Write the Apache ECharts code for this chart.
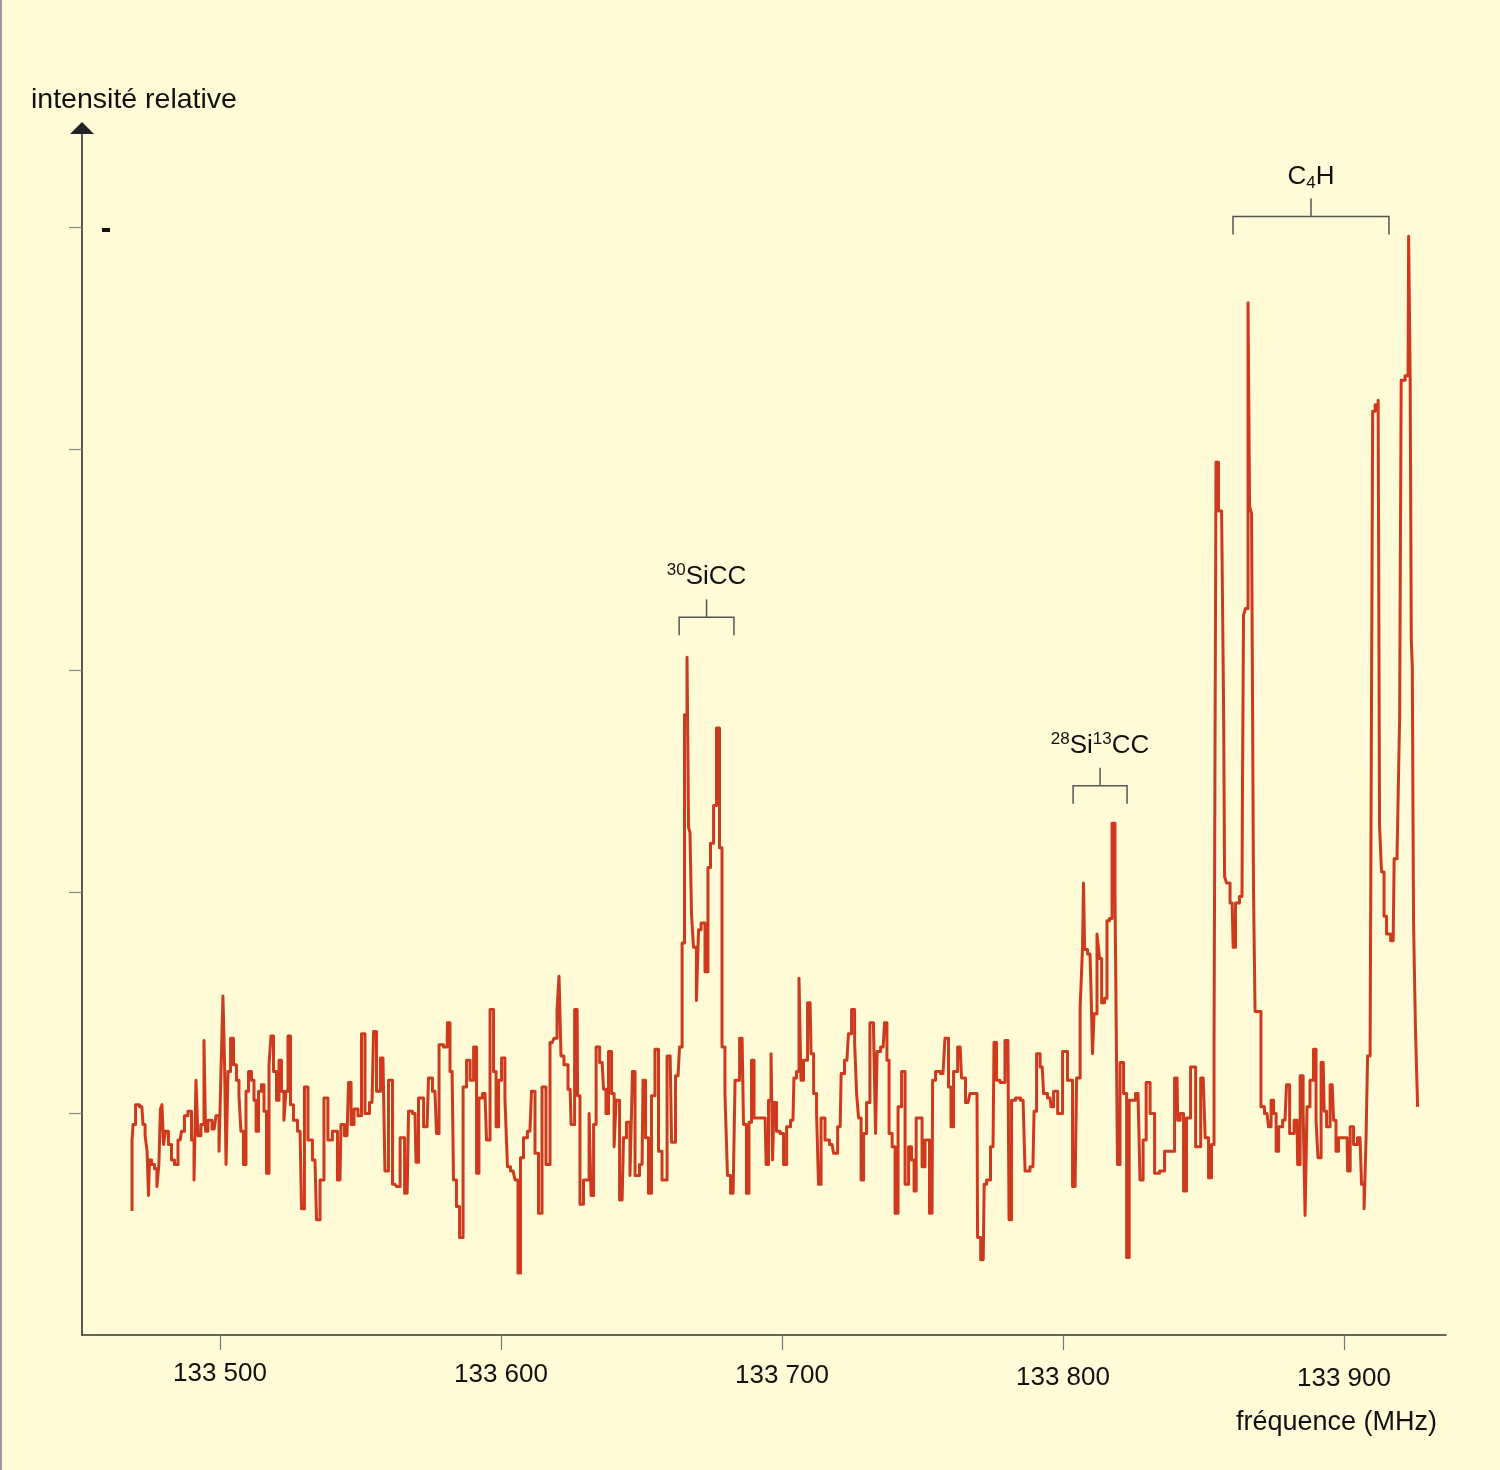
<!DOCTYPE html>
<html>
<head>
<meta charset="utf-8">
<title>Spectre SiCC / C4H</title>
<script src="https://cdn.jsdelivr.net/npm/echarts@6/dist/echarts.min.js"></script>
<style>
html, body { margin: 0; padding: 0; background: #fefbd6; }
#spectre { width: 1500px; height: 1470px; }
</style>
</head>
<body>
<div id="spectre"></div>
<script>
// spectre relevé à la main, [fréquence MHz, intensité relative]
const noiseLow = [[133468.7,-0.44],[133468.7,-0.12],[133469.4,-0.05],[133470.5,0.04],[133472.2,0.03],[133473.0,-0.05],[133473.7,-0.10],[133474.4,-0.17],[133474.7,-0.37],[133475.1,-0.21],[133476.2,-0.23],[133477.2,-0.25],[133477.9,-0.33],[133478.6,-0.23],[133479.0,0.02],[133479.7,0.04],[133480.1,-0.14],[133481.1,-0.08],[133482.2,-0.14],[133483.3,-0.21],[133484.3,-0.23],[133485.8,-0.12],[133486.8,-0.08],[133487.9,-0.01],[133489.3,0.01],[133490.4,-0.12],[133491.1,-0.30],[133491.8,0.15],[133492.5,-0.10],[133493.9,-0.05],[133494.7,0.33],[133495.0,-0.08],[133496.4,-0.03],[133497.9,-0.07],[133499.3,-0.01],[133500.0,-0.17],[133500.7,0.19],[133501.4,0.53],[133501.8,0.24],[133502.5,-0.23],[133503.2,0.19],[133504.3,0.34],[133505.3,0.22],[133506.4,0.15],[133507.1,0.08],[133507.8,-0.08],[133508.9,-0.23],[133509.6,0.10],[133510.7,0.19],[133511.7,0.15],[133512.5,0.06],[133513.2,-0.08],[133514.2,0.10],[133515.3,0.13],[133516.0,0.01],[133517.1,-0.27],[133517.8,0.22],[133518.5,0.35],[133519.6,0.19],[133520.6,0.06],[133521.4,0.24],[133522.4,0.10],[133523.1,-0.03],[133523.8,0.10],[133524.6,0.35],[133525.6,0.04],[133526.7,-0.03],[133528.5,-0.08],[133529.5,-0.43],[133530.6,0.12],[133532.0,-0.12],[133533.8,-0.21],[133534.9,-0.48],[133536.3,-0.30],[133537.7,0.07],[133539.1,-0.12],[133540.9,-0.08],[133542.7,-0.30],[133543.4,-0.05],[133545.2,-0.10]];
const noiseMid = [[133546.3,0.14],[133547.0,-0.05],[133548.4,0.02],[133549.8,-0.01],[133550.9,0.36],[133552.3,0],[133554.1,0.05],[133555.2,0.37],[133556.2,0.10],[133558.0,0.25],[133559.4,-0.26],[133560.5,0.15],[133562.3,-0.32],[133563.4,-0.33],[133564.8,-0.11],[133566.6,-0.36],[133567.6,0.01],[133569.4,0],[133570.1,-0.22],[133571.2,0.07],[133573.7,-0.06],[133574.7,0.16],[133576.5,0.10],[133577.6,-0.09],[133578.3,0.31],[133580.8,0.30],[133581.1,0.41],[133582.6,0.19],[133583.6,-0.30],[133584.7,-0.42],[133585.8,-0.56],[133587.2,0.12],[133588.3,0.24],[133589.7,0.15],[133590.8,0.30],[133591.8,-0.27],[133592.5,0.07],[133594.3,0.09],[133595.4,-0.12],[133596.8,0.47],[133597.9,0.19],[133598.6,-0.06],[133599.7,0.15],[133600.7,0.25],[133602.1,0.07],[133602.5,-0.24],[133604.3,-0.26],[133605.7,-0.30],[133606.4,-0.72],[133607.5,-0.20],[133608.5,-0.11],[133610.3,-0.08],[133611.4,0.10],[133612.8,-0.18],[133613.9,-0.45],[133615.3,0.12],[133616.7,-0.23],[133618.2,0.32],[133619.6,0.34],[133620.3,0.47],[133621.0,0.62],[133621.7,0.26],[133623.1,0.22],[133624.6,0.11],[133625.3,-0.05],[133627.1,0.47],[133627.4,0.08],[133628.8,-0.41],[133629.9,-0.30],[133631.0,-0.30],[133631.7,0],[133632.4,-0.37],[133633.5,-0.05],[133634.2,0.30],[133636.0,0.23],[133637.0,0.11],[133637.7,0],[133638.8,0.28],[133639.9,0.09],[133640.6,-0.15],[133641.3,0.06],[133643.1,-0.39],[133644.1,-0.11],[133645.2,-0.04],[133646.6,-0.28],[133647.0,0.19],[133648.4,-0.28],[133650.2,-0.23],[133650.9,0.15],[133652.0,-0.11],[133653.0,-0.36],[133654.1,0.08],[133655.5,0.29],[133656.6,-0.17],[133658.0,-0.30],[133660.2,0.26],[133661.2,-0.13],[133663.0,0.17]];
const peaksSiCC = [[133664.1,0.30],[133664.8,0.77],[133665.8,1.80],[133666.6,2.06],[133666.9,1.29],[133667.6,1.27],[133668.0,0.90],[133669.0,0.75],[133670.1,0.51],[133670.5,0.83],[133671.9,0.86],[133673.3,0.64],[133674.0,1.11],[133675.1,1.22],[133676.2,1.39],[133677.2,1.74],[133678.3,1.20],[133679.0,0.30],[133680.4,0.09],[133680.8,-0.28],[133682.6,-0.36],[133684.0,0.15]];
const noiseHigh = [[133685.8,0.34],[133686.8,-0.05],[133687.9,-0.36],[133688.6,-0.04],[133689.7,0.24],[133690.4,-0.02],[133694.0,-0.02],[133694.7,-0.23],[133695.7,0.06],[133696.5,0.27],[133696.8,-0.21],[133697.5,0.05],[133698.6,-0.08],[133700.0,-0.09],[133701.1,-0.23],[133702.2,-0.06],[133703.9,-0.03],[133704.6,0.16],[133705.7,0.19],[133706.4,0.61],[133707.1,0.15],[133708.2,0.24],[133710.0,0.50],[133710.7,0.27],[133711.8,0.09],[133712.8,0],[133713.2,-0.32],[133714.6,-0.02],[133716.0,-0.12],[133717.8,-0.14],[133718.9,-0.18],[133720.7,-0.06],[133721.4,0.18],[133723.1,0.24],[133724.2,0.36],[133725.3,0.47],[133726.4,0.32],[133726.7,0.09],[133727.8,-0.02],[133728.5,-0.30],[133729.6,-0.09],[133730.6,0.05],[133732.0,0.41],[133733.1,0.39],[133733.5,-0.09],[133734.2,0.28],[133736.0,0.30],[133737.0,0.41],[133737.7,0.24],[133738.5,-0.09],[133739.9,-0.15],[133740.6,-0.45],[133742.0,0.03],[133743.1,0.19],[133744.5,-0.32],[133745.6,-0.15],[133746.6,-0.21],[133747.4,-0.35],[133748.1,-0.02],[133749.5,-0.02],[133750.2,-0.24],[133751.6,-0.12],[133753.4,-0.45],[133753.8,0.15],[133755.5,0.19],[133757.3,0.18],[133758.7,0.34],[133759.8,0.12],[133760.5,-0.06],[133761.6,0.19],[133763.4,0.30],[133764.4,0.16],[133766.2,0.05],[133767.6,0.09],[133769.4,0.09],[133769.8,-0.56],[133771.6,-0.66],[133772.3,-0.32],[133773.3,-0.30],[133775.1,-0.15],[133775.8,0.32],[133776.9,0.15],[133778.3,0.14],[133780.4,0.33],[133781.2,-0.48],[133782.2,0.06],[133784.0,0.07],[133785.8,0.06],[133787.2,-0.26],[133789.3,-0.24],[133790.1,0.01],[133791.1,0.27],[133792.6,0.21],[133793.6,0.09],[133795.4,0.07],[133796.1,0.03],[133797.2,0.10],[133799.0,0],[133800.7,0.28],[133802.5,0.15],[133804.3,-0.33],[133805.4,0.16]];
const peaksSi13CC = [[133806.8,0.48],[133807.1,0.75],[133807.5,1.04],[133807.9,0.74],[133809.6,0.72],[133810.3,0.57],[133810.7,0.27],[133811.4,0.45],[133812.8,0.81],[133813.2,0.70],[133814.3,0.50],[133815.3,0.52],[133816.0,0.87],[133817.1,0.88],[133817.8,1.31],[133819.2,0.99],[133819.6,-0.23],[133821.0,0.23],[133822.1,0.09],[133823.2,-0.65]];
const noiseC4H = [[133823.9,0.06],[133824.9,0.06],[133826.7,0.09],[133828.1,-0.30],[133828.9,-0.12],[133830.3,0.14],[133831.7,0],[133833.5,-0.27],[133835.3,-0.26],[133837.0,-0.17],[133838.8,-0.17],[133840.6,0.16],[133841.0,-0.03],[133842.4,0],[133843.4,-0.35],[133844.5,-0.02],[133846.3,0.21],[133848.1,-0.15],[133849.9,0.16],[133851.3,-0.11],[133852.3,-0.29],[133853.4,-0.14],[133854.1,0.32]];
const peaksC4H = [[133854.8,2.94],[133855.9,2.72],[133857.0,2.71],[133857.3,1.84],[133857.7,1.07],[133858.7,1.04],[133860.2,0.95],[133860.9,0.75],[133861.9,0.95],[133863.7,0.98],[133864.1,1.53],[133864.4,2.25],[133865.5,2.28],[133866.2,3.66],[133866.6,2.74],[133867.6,2.71],[133868.0,1.01],[133868.7,0.46],[133870.1,0.46],[133870.8,0.03],[133872.6,0],[133873.7,-0.06],[133874.4,0.06],[133875.5,0],[133876.2,-0.17],[133877.3,-0.06],[133879.0,-0.03],[133880.1,0.13],[133881.2,-0.09],[133883.3,-0.03],[133883.7,-0.23],[133885.1,0.17],[133885.8,0.01],[133886.5,-0.46],[133887.2,0.03],[133888.6,0.15],[133889.7,0.29],[133890.4,-0.03],[133891.1,-0.20],[133892.6,0.23],[133893.3,0.01],[133894.3,-0.06],[133895.8,0.13],[133896.8,-0.03],[133897.5,-0.17],[133898.6,-0.11],[133901.1,-0.11],[133901.5,-0.26],[133902.9,-0.06],[133903.9,-0.14],[133905.7,-0.11],[133906.8,-0.32],[133907.5,-0.43],[133908.2,-0.11],[133908.6,0.26],[133910.0,0.29],[133910.4,3.17],[133911.8,3.20],[133912.5,3.22],[133912.8,1.30],[133913.9,1.09],[133914.6,0.89],[133915.7,0.81],[133917.5,0.78],[133918.2,1.15],[133919.6,1.18],[133920.0,1.79],[133920.7,3.31],[133922.8,3.33],[133923.2,3.96],[133923.9,3.31],[133924.0,2.14],[133924.6,2.02],[133924.9,0.86],[133926.0,0.37],[133926.4,0.03]];

const freqTicks = [133500, 133600, 133700, 133800, 133900];
const intensityTicks = [0, 1, 2, 3, 4];

// attributions des raies
const bracketLabels = ['{sup|30}{b|SiCC}', '{sup|28}{b|Si}{sup|13}{b|CC}', '{b|C}{sub|4}{b|H}'];
const bracketLeft = [133663.4, 133803.6, 133860.5];
const bracketRight = [133682.9, 133822.8, 133916.0];
const bracketLevel = [2.24, 1.48, 4.05];

const spectrum = [].concat(noiseLow, noiseMid, peaksSiCC, noiseHigh, peaksSi13CC, noiseC4H, peaksC4H);
const brackets = bracketLeft.map((l, i) => [l, bracketRight[i], bracketLevel[i]]);

const font = "'Liberation Sans', Arial, sans-serif";
const richLabel = {
  b: { fontSize: 26, fontFamily: font, fill: '#111', lineHeight: 30 },
  sup: { fontSize: 17, fontFamily: font, fill: '#111', lineHeight: 17, verticalAlign: 'top' },
  sub: { fontSize: 17, fontFamily: font, fill: '#111', lineHeight: 17, verticalAlign: 'bottom' }
};

const myChart = echarts.init(document.getElementById('spectre'));

const option = {
  backgroundColor: '#fefbd6',
  animation: false,
  textStyle: { fontFamily: font },
  grid: { left: 82, right: 54, top: 128, bottom: 135 },
  xAxis: {
    type: 'value',
    min: 133450.89,
    max: 133936.3,
    splitLine: { show: false },
    axisLine: { show: true, onZero: false, lineStyle: { color: '#333', width: 1.5 } },
    axisTick: { show: true, customValues: freqTicks, length: 15, lineStyle: { color: '#777', width: 1.2 } },
    axisLabel: {
      customValues: freqTicks,
      margin: 26,
      fontSize: 26,
      color: '#111',
      formatter: function (v) {
        const s = String(v);
        const i = freqTicks.indexOf(v);
        return '{t' + i + '|' + s.slice(0, 3) + ' ' + s.slice(3) + '}';
      },
      rich: {
        t0: { fontSize: 26, padding: [0, 0, 0, 0] },
        t1: { fontSize: 26, padding: [1, 0, 0, 0] },
        t2: { fontSize: 26, padding: [2, 0, 0, 0] },
        t3: { fontSize: 26, padding: [4, 0, 0, 0] },
        t4: { fontSize: 26, padding: [5, 0, 0, 0] }
      }
    }
  },
  yAxis: {
    type: 'value',
    min: -1,
    max: 4.449,
    splitLine: { show: false },
    axisLine: {
      show: true,
      onZero: false,
      symbol: ['none', 'triangle'],
      symbolSize: [24, 12],
      lineStyle: { color: '#222', width: 1.5 }
    },
    axisTick: { show: true, customValues: intensityTicks, length: 13, lineStyle: { color: '#888', width: 1.2 } },
    axisLabel: { show: false }
  },
  graphic: [
    { type: 'rect', left: 0, top: 0, shape: { width: 2, height: 1470 }, style: { fill: '#9c9c9c' } },
    { type: 'text', left: 31, top: 86, style: { text: 'intensité relative', fontSize: 28.5, fontFamily: font, fill: '#111' } },
    { type: 'text', right: 63, top: 1409, style: { text: 'fréquence (MHz)', fontSize: 27, fontFamily: font, fill: '#111' } },
    { type: 'rect', left: 102, top: 228, shape: { width: 8, height: 4 }, style: { fill: '#111' } }
  ],
  series: [
    {
      type: 'line',
      data: spectrum,
      step: 'middle',
      showSymbol: false,
      symbol: 'none',
      silent: true,
      lineStyle: { color: '#cd3a1e', width: 3, join: 'round' }
    },
    {
      type: 'custom',
      data: brackets,
      encode: { x: [0, 1], y: 2 },
      clip: false,
      silent: true,
      renderItem: function (params, api) {
        const a = api.coord([api.value(0), api.value(2)]);
        const b = api.coord([api.value(1), api.value(2)]);
        const mid = (a[0] + b[0]) / 2;
        return {
          type: 'group',
          children: [
            {
              type: 'polyline',
              shape: { points: [[a[0], a[1] + 18], a, b, [b[0], b[1] + 18]] },
              style: { stroke: '#555', lineWidth: 1.5, fill: null }
            },
            {
              type: 'line',
              shape: { x1: mid, y1: a[1], x2: mid, y2: a[1] - 18 },
              style: { stroke: '#555', lineWidth: 1.5 }
            },
            {
              type: 'text',
              x: mid,
              y: a[1] - 40,
              style: {
                text: bracketLabels[params.dataIndex],
                align: 'center',
                verticalAlign: 'middle',
                rich: richLabel
              }
            }
          ]
        };
      }
    }
  ]
};

myChart.setOption(option);
window.addEventListener('resize', function () {
  myChart && myChart.resize();
});
</script>
</body>
</html>
